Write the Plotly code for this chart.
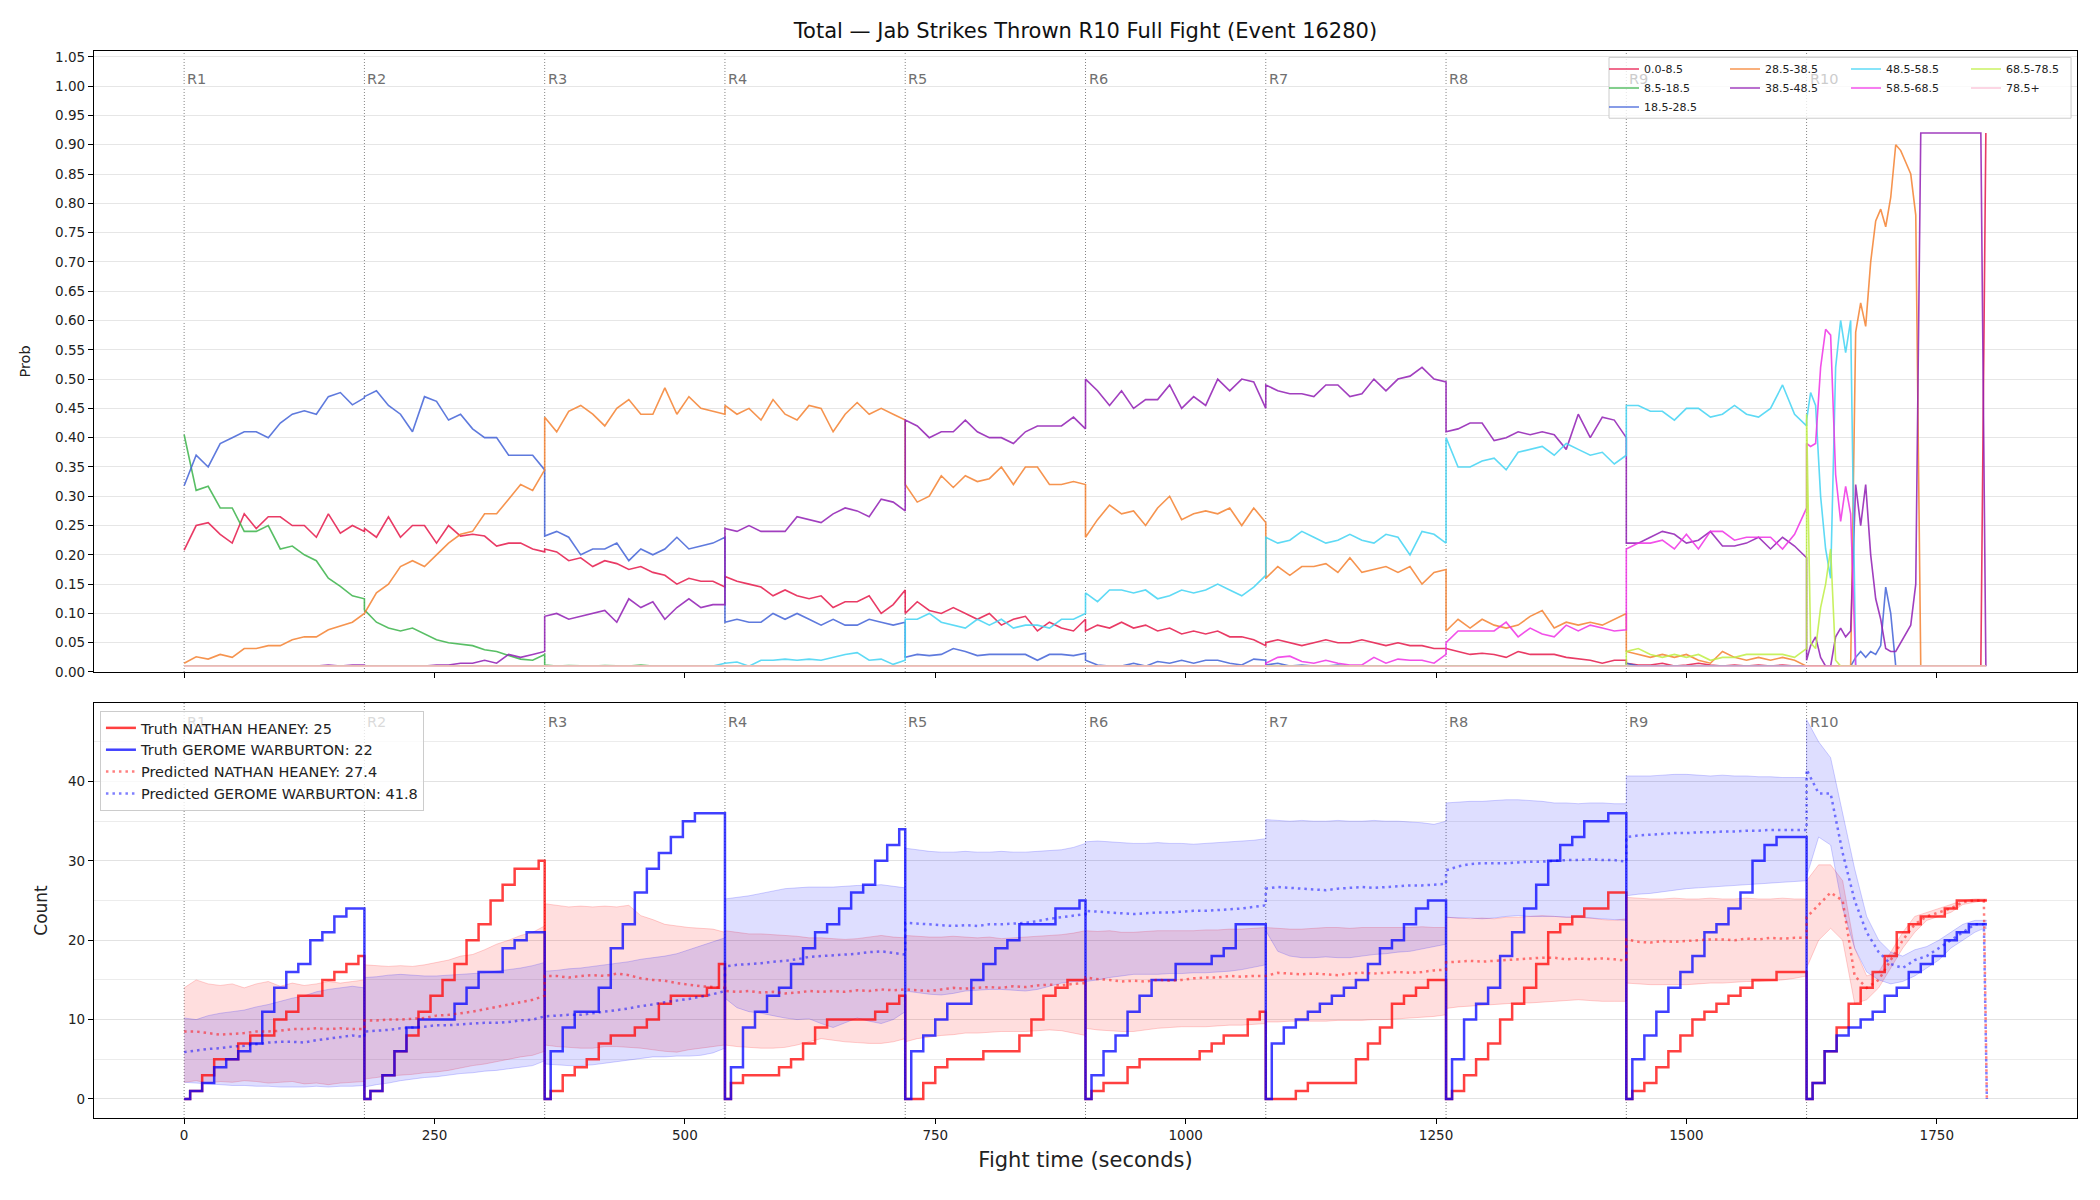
import plotly.graph_objects as go

# ---------------- data ----------------
title_text = "Total — Jab Strikes Thrown R10 Full Fight (Event 16280)"
round_starts = [0, 180, 360, 540, 720, 900, 1080, 1260, 1440, 1620]
round_labels = ["R1", "R2", "R3", "R4", "R5", "R6", "R7", "R8", "R9", "R10"]
grid_offsets = [0, 12, 24, 36, 48, 60, 72, 84, 96, 108, 120, 132, 144, 156, 168, 180]
r10_top_times = [1620, 1624, 1629, 1634, 1639, 1644, 1649, 1654, 1659, 1664, 1669, 1674, 1679,
                 1684, 1689, 1694, 1699, 1704, 1709, 1714, 1719, 1724, 1729, 1734, 1794, 1799]
r10_bottom_offsets = [0, 12, 24, 36, 48, 60, 72, 84, 96, 108, 120, 132, 144, 156, 168, 177, 180]

bin_names = ["0.0-8.5", "8.5-18.5", "18.5-28.5", "28.5-38.5", "38.5-48.5",
             "48.5-58.5", "58.5-68.5", "68.5-78.5", "78.5+"]
bin_colors = ["#e6194b", "#3cb44b", "#4363d8", "#f58231", "#911eb4",
              "#42d4f4", "#f032e6", "#bfef45", "#fabed4"]

p_0_8 = [
    0.208, 0.25, 0.255, 0.235, 0.22, 0.27, 0.245, 0.265, 0.265, 0.25, 0.25, 0.23, 0.27, 0.237, 0.25, 0.24,
    0.245, 0.23, 0.265, 0.23, 0.25, 0.25, 0.22, 0.25, 0.232, 0.235, 0.232, 0.215, 0.22, 0.22, 0.21, 0.205,
    0.21, 0.205, 0.19, 0.195, 0.18, 0.19, 0.185, 0.175, 0.18, 0.17, 0.165, 0.15, 0.16, 0.155, 0.155, 0.145,
    0.163, 0.155, 0.15, 0.145, 0.13, 0.14, 0.13, 0.125, 0.13, 0.11, 0.12, 0.12, 0.13, 0.10, 0.115, 0.14,
    0.10, 0.12, 0.105, 0.10, 0.11, 0.10, 0.09, 0.10, 0.08, 0.09, 0.095, 0.07, 0.085, 0.075, 0.07, 0.09,
    0.07, 0.08, 0.075, 0.085, 0.075, 0.08, 0.07, 0.075, 0.065, 0.07, 0.065, 0.07, 0.06, 0.06, 0.055, 0.045,
    0.05, 0.055, 0.05, 0.045, 0.05, 0.055, 0.05, 0.05, 0.055, 0.05, 0.045, 0.05, 0.045, 0.045, 0.04, 0.04,
    0.04, 0.035, 0.03, 0.032, 0.03, 0.025, 0.035, 0.03, 0.03, 0.03, 0.025, 0.022, 0.02, 0.015, 0.02, 0.02,
    0.015, 0.012, 0.012, 0.015, 0.01, 0.012, 0.015, 0.012, 0.01, 0.012, 0.01, 0.012, 0.01, 0.012, 0.01, 0.01,
    0.01, 0.01, 0.01, 0.01, 0.01, 0.01, 0.01, 0.01, 0.01, 0.01, 0.01, 0.01, 0.01,
    0.01, 0.01, 0.01, 0.01, 0.01, 0.01, 0.01, 0.01, 0.01, 0.01, 0.01, 0.01, 0.92,
]
p_8_18 = [
    0.405, 0.31, 0.317, 0.28, 0.28, 0.24, 0.24, 0.25, 0.21, 0.215, 0.20, 0.19, 0.16, 0.146, 0.13, 0.125,
    0.106, 0.085, 0.075, 0.07, 0.075, 0.065, 0.055, 0.05, 0.048, 0.045, 0.038, 0.035, 0.028, 0.022, 0.02, 0.03,
    0.012, 0.01, 0.011, 0.01, 0.01, 0.011, 0.01, 0.01, 0.012, 0.01, 0.01, 0.01, 0.01, 0.01, 0.01, 0.01,
] + [0.01] * (16 * 6 + 26)
p_18_28 = [
    0.318, 0.37, 0.35, 0.39, 0.40, 0.41, 0.41, 0.40, 0.425, 0.44, 0.446, 0.44, 0.47, 0.477, 0.456, 0.468,
    0.47, 0.48, 0.455, 0.44, 0.41, 0.47, 0.462, 0.43, 0.44, 0.415, 0.40, 0.40, 0.37, 0.37, 0.37, 0.345,
    0.232, 0.24, 0.23, 0.20, 0.21, 0.21, 0.22, 0.19, 0.21, 0.20, 0.21, 0.23, 0.21, 0.215, 0.22, 0.23,
    0.085, 0.09, 0.085, 0.085, 0.10, 0.09, 0.10, 0.09, 0.08, 0.09, 0.08, 0.08, 0.09, 0.085, 0.08, 0.085,
    0.025, 0.03, 0.028, 0.03, 0.04, 0.035, 0.028, 0.03, 0.03, 0.03, 0.03, 0.02, 0.03, 0.03, 0.028, 0.032,
    0.02, 0.012, 0.01, 0.01, 0.015, 0.01, 0.018, 0.015, 0.02, 0.015, 0.02, 0.02, 0.015, 0.012, 0.022, 0.02,
    0.012, 0.015, 0.01, 0.012, 0.01, 0.01, 0.012, 0.01, 0.01, 0.01, 0.01, 0.01, 0.01, 0.01, 0.01, 0.01,
    0.01, 0.01, 0.01, 0.01, 0.01, 0.01, 0.01, 0.01, 0.01, 0.01, 0.01, 0.01, 0.01, 0.01, 0.01, 0.01,
    0.015, 0.01, 0.01, 0.01, 0.01, 0.01, 0.01, 0.01, 0.01, 0.01, 0.01, 0.01, 0.01, 0.01, 0.01, 0.01,
    0.01, 0.01, 0.01, 0.01, 0.01, 0.01, 0.01, 0.01, 0.01, 0.01,
    0.025, 0.035, 0.025, 0.035, 0.03, 0.045, 0.145, 0.10,
    0.01, 0.01, 0.01, 0.01, 0.01, 0.01, 0.01, 0.01,
]
p_28_38 = [
    0.015, 0.026, 0.022, 0.03, 0.025, 0.04, 0.04, 0.045, 0.045, 0.055, 0.06, 0.06, 0.072, 0.078, 0.085, 0.10,
    0.10, 0.135, 0.15, 0.18, 0.19, 0.18, 0.20, 0.22, 0.235, 0.24, 0.27, 0.27, 0.295, 0.32, 0.31, 0.345,
    0.435, 0.41, 0.445, 0.455, 0.44, 0.42, 0.45, 0.465, 0.44, 0.44, 0.485, 0.44, 0.47, 0.45, 0.445, 0.44,
    0.455, 0.44, 0.45, 0.43, 0.465, 0.44, 0.43, 0.455, 0.45, 0.41, 0.44, 0.46, 0.44, 0.45, 0.44, 0.43,
    0.32, 0.29, 0.30, 0.335, 0.315, 0.335, 0.325, 0.33, 0.35, 0.32, 0.35, 0.35, 0.32, 0.32, 0.325, 0.32,
    0.23, 0.26, 0.285, 0.27, 0.275, 0.25, 0.28, 0.30, 0.26, 0.27, 0.275, 0.27, 0.28, 0.25, 0.28, 0.255,
    0.16, 0.18, 0.165, 0.18, 0.18, 0.185, 0.17, 0.195, 0.17, 0.175, 0.18, 0.17, 0.18, 0.15, 0.17, 0.175,
    0.07, 0.09, 0.075, 0.09, 0.08, 0.075, 0.08, 0.095, 0.105, 0.075, 0.085, 0.08, 0.085, 0.08, 0.09, 0.10,
    0.035, 0.03, 0.025, 0.03, 0.025, 0.03, 0.02, 0.015, 0.035, 0.025, 0.02, 0.025, 0.02, 0.025, 0.02, 0.01,
    0.01, 0.01, 0.01, 0.01, 0.01, 0.01, 0.01, 0.01, 0.01, 0.01,
    0.58, 0.63, 0.59, 0.70, 0.77, 0.79, 0.76, 0.81, 0.90, 0.89, 0.87, 0.85, 0.78,
    0.01, 0.01, 0.01,
]
p_38_48 = [
    0.01, 0.01, 0.01, 0.01, 0.01, 0.01, 0.01, 0.01, 0.01, 0.01, 0.01, 0.01, 0.012, 0.01, 0.012, 0.012,
    0.01, 0.01, 0.01, 0.01, 0.01, 0.01, 0.012, 0.012, 0.015, 0.015, 0.02, 0.015, 0.03, 0.025, 0.03, 0.035,
    0.095, 0.10, 0.09, 0.095, 0.10, 0.105, 0.085, 0.125, 0.11, 0.12, 0.09, 0.11, 0.125, 0.11, 0.115, 0.115,
    0.245, 0.24, 0.25, 0.24, 0.24, 0.24, 0.265, 0.26, 0.255, 0.27, 0.28, 0.275, 0.265, 0.295, 0.29, 0.275,
    0.43, 0.42, 0.40, 0.41, 0.41, 0.43, 0.41, 0.40, 0.40, 0.39, 0.41, 0.42, 0.42, 0.42, 0.435, 0.415,
    0.50, 0.48, 0.455, 0.48, 0.45, 0.465, 0.465, 0.49, 0.45, 0.47, 0.455, 0.50, 0.48, 0.50, 0.495, 0.45,
    0.49, 0.48, 0.475, 0.475, 0.47, 0.49, 0.49, 0.47, 0.475, 0.50, 0.48, 0.50, 0.505, 0.52, 0.50, 0.495,
    0.41, 0.415, 0.425, 0.425, 0.395, 0.40, 0.41, 0.405, 0.41, 0.405, 0.38, 0.44, 0.40, 0.435, 0.43, 0.40,
    0.22, 0.22, 0.23, 0.24, 0.235, 0.22, 0.225, 0.24, 0.215, 0.215, 0.22, 0.23, 0.21, 0.23, 0.215, 0.195,
    0.02, 0.045, 0.06, 0.025, 0.01, 0.01, 0.06, 0.075, 0.06, 0.07, 0.32, 0.25, 0.32,
    0.20, 0.125, 0.09, 0.04, 0.035, 0.035, 0.05, 0.065, 0.08, 0.15, 0.92, 0.92, 0.01,
]
p_48_58 = [0.01] * 47 + [0.015] + [
    0.015, 0.017, 0.01, 0.02, 0.02, 0.022, 0.02, 0.022, 0.02, 0.025, 0.03, 0.033, 0.02, 0.022, 0.013, 0.02,
    0.09, 0.09, 0.10, 0.085, 0.08, 0.075, 0.09, 0.08, 0.09, 0.075, 0.08, 0.08, 0.075, 0.09, 0.09, 0.10,
    0.135, 0.12, 0.14, 0.14, 0.135, 0.14, 0.125, 0.13, 0.14, 0.135, 0.14, 0.15, 0.14, 0.13, 0.145, 0.165,
    0.23, 0.22, 0.225, 0.24, 0.23, 0.22, 0.225, 0.235, 0.225, 0.22, 0.235, 0.23, 0.20, 0.24, 0.235, 0.22,
    0.40, 0.35, 0.35, 0.36, 0.365, 0.345, 0.375, 0.38, 0.385, 0.37, 0.39, 0.38, 0.37, 0.375, 0.355, 0.37,
    0.455, 0.455, 0.445, 0.445, 0.43, 0.45, 0.45, 0.435, 0.44, 0.455, 0.44, 0.435, 0.45, 0.49, 0.44, 0.42,
    0.43, 0.477, 0.455, 0.30, 0.21, 0.16, 0.52, 0.60, 0.545, 0.60,
] + [0.01] * 16
p_58_68 = [0.01] * (16 * 6) + [
    0.015, 0.025, 0.027, 0.018, 0.015, 0.02, 0.015, 0.012, 0.012, 0.025, 0.015, 0.022, 0.02, 0.02, 0.015, 0.03,
    0.05, 0.07, 0.07, 0.07, 0.07, 0.085, 0.06, 0.075, 0.065, 0.06, 0.08, 0.07, 0.08, 0.075, 0.07, 0.072,
    0.21, 0.22, 0.22, 0.225, 0.21, 0.235, 0.21, 0.24, 0.24, 0.225, 0.23, 0.23, 0.23, 0.21, 0.235, 0.28,
    0.39, 0.385, 0.39, 0.52, 0.585, 0.575, 0.337, 0.257, 0.317, 0.27,
] + [0.01] * 16
p_68_78 = [0.01] * (16 * 8) + [
    0.035, 0.04, 0.03, 0.025, 0.03, 0.025, 0.03, 0.02, 0.025, 0.025, 0.03, 0.03, 0.03, 0.03, 0.025, 0.04,
    0.44, 0.05, 0.04, 0.11, 0.15, 0.21, 0.02, 0.01,
] + [0.01] * 18
p_78_plus = [0.01] * (16 * 9 + 26)

truth_red = [
    0, 1, 3, 5, 5, 7, 8, 8, 10, 11, 13, 13, 15, 16, 17, 18,
    0, 1, 3, 6, 8, 11, 13, 15, 17, 20, 22, 25, 27, 29, 29, 30,
    0, 1, 3, 4, 5, 7, 8, 8, 9, 10, 12, 13, 13, 13, 14, 17,
    0, 2, 3, 3, 3, 4, 5, 7, 9, 10, 10, 10, 10, 11, 12, 13,
    0, 0, 2, 4, 5, 5, 5, 6, 6, 6, 8, 10, 13, 14, 15, 15,
    0, 1, 2, 2, 4, 5, 5, 5, 5, 5, 6, 7, 8, 8, 10, 11,
    0, 0, 0, 1, 2, 2, 2, 2, 5, 7, 9, 12, 13, 14, 15, 15,
    0, 1, 3, 5, 7, 10, 12, 14, 17, 21, 22, 23, 24, 24, 26, 26,
    0, 1, 2, 4, 6, 8, 10, 11, 12, 13, 14, 15, 15, 16, 16, 16,
    0, 2, 6, 9, 12, 14, 16, 18, 21, 22, 23, 23, 24, 25, 25, 25, 25,
]
truth_blue = [
    0, 1, 2, 4, 5, 6, 7, 11, 14, 16, 17, 20, 21, 23, 24, 24,
    0, 1, 3, 6, 9, 10, 10, 10, 12, 14, 16, 16, 19, 20, 21, 21,
    0, 6, 9, 11, 11, 14, 19, 22, 26, 29, 31, 33, 35, 36, 36, 36,
    0, 4, 9, 11, 13, 14, 17, 19, 21, 22, 24, 26, 27, 30, 32, 34,
    0, 6, 8, 10, 12, 12, 15, 17, 19, 20, 22, 22, 22, 24, 24, 25,
    0, 3, 6, 8, 11, 13, 15, 15, 17, 17, 17, 18, 19, 22, 22, 22,
    0, 7, 9, 10, 11, 12, 13, 14, 15, 17, 19, 20, 22, 24, 25, 25,
    0, 5, 10, 12, 14, 18, 21, 24, 27, 30, 32, 33, 35, 35, 36, 36,
    0, 5, 8, 11, 14, 16, 18, 21, 22, 24, 26, 30, 32, 33, 33, 33,
    0, 2, 6, 8, 9, 10, 11, 13, 14, 16, 17, 18, 20, 21, 22, 22, 22,
]
pred_red = [
    8.5, 8.5, 8.3, 8.1, 8.2, 8.3, 8.5, 8.5, 8.6, 8.8, 8.8, 8.9, 8.8, 8.9, 8.8, 8.8,
    9.9, 9.9, 10.0, 10.0, 10.1, 10.2, 10.5, 10.6, 10.8, 11.0, 11.3, 11.6, 11.9, 12.2, 12.5, 13.0,
    15.5, 15.5, 15.3, 15.5, 15.6, 15.5, 15.8, 15.6, 15.2, 15.0, 14.9, 14.6, 14.4, 14.2, 14.1, 14.0,
    13.6, 13.5, 13.6, 13.4, 13.5, 13.3, 13.4, 13.6, 13.5, 13.6, 13.5, 13.7, 13.6, 13.8, 13.7, 13.8,
    13.8, 13.7, 13.6, 13.8, 14.0, 13.9, 14.0, 14.1, 14.0, 14.2, 14.1, 14.3, 14.4, 14.3, 14.5, 14.6,
    15.3, 15.1, 15.0, 14.8, 14.9, 14.8, 15.0, 14.9, 15.0, 15.2, 15.3, 15.3, 15.5, 15.4, 15.5, 15.5,
    15.5, 15.9, 15.8, 15.7, 15.8, 15.7, 15.6, 15.8, 15.9, 15.8, 15.9, 16.0, 15.9, 16.0, 16.2, 16.3,
    17.2, 17.3, 17.4, 17.3, 17.4, 17.5, 17.6, 17.7, 17.8, 17.8, 17.6, 17.7, 17.6, 17.7, 17.6, 17.4,
    20.1, 19.8, 19.7, 19.9, 19.8, 19.9, 20.0, 20.1, 20.1, 20.0, 20.2, 20.1, 20.3, 20.2, 20.3, 20.3,
    22.9, 24.5, 26.0, 25.0, 15.5, 14.0, 15.0, 17.5, 20.0, 22.0, 23.0, 23.5, 24.0, 24.8, 25.0, 25.0, 0.0,
]
pred_blue = [
    5.9, 6.1, 6.3, 6.4, 6.6, 6.7, 6.9, 7.1, 7.2, 7.2, 7.1, 7.4, 7.6, 7.8, 8.0, 7.8,
    8.5, 8.6, 8.7, 8.9, 9.0, 9.1, 9.3, 9.3, 9.4, 9.5, 9.6, 9.6, 9.7, 9.9, 10.0, 10.4,
    10.4, 10.5, 10.6, 10.6, 10.8, 11.0, 11.2, 11.4, 11.7, 11.9, 12.2, 12.4, 12.6, 12.9, 13.2, 13.6,
    16.7, 16.9, 17.0, 17.1, 17.3, 17.4, 17.6, 17.9, 18.0, 18.1, 18.2, 18.3, 18.5, 18.6, 18.4, 18.2,
    22.2, 22.1, 22.0, 21.9, 21.8, 21.9, 21.8, 22.0, 22.0, 22.1, 22.2, 22.4, 22.7, 22.9, 23.1, 23.3,
    23.7, 23.6, 23.5, 23.4, 23.3, 23.4, 23.5, 23.5, 23.6, 23.7, 23.7, 23.8, 23.9, 24.0, 24.2, 24.4,
    26.5, 26.7, 26.6, 26.5, 26.4, 26.3, 26.5, 26.6, 26.7, 26.6, 26.7, 26.8, 26.9, 26.9, 27.0, 27.1,
    28.8, 29.3, 29.6, 29.7, 29.7, 29.7, 29.8, 29.9, 29.9, 30.0, 30.1, 30.1, 30.2, 30.1, 30.1, 29.9,
    33.0, 33.2, 33.3, 33.4, 33.5, 33.5, 33.6, 33.6, 33.7, 33.7, 33.8, 33.8, 33.9, 33.9, 33.9, 33.9,
    41.5, 38.5, 38.5, 31.0, 25.0, 21.0, 18.5, 17.0, 16.5, 17.5, 18.0, 19.0, 20.0, 21.0, 22.0, 22.0, 0.0,
]
red_lo = [
    2.1, 2.3, 2.0, 2.2, 2.1, 2.3, 2.2, 2.0, 2.1, 2.2, 1.9, 2.0, 1.8, 2.0, 2.1, 2.2,
    2.5, 2.7, 2.9, 3.0, 3.1, 3.3, 3.4, 3.6, 3.9, 4.2, 4.4, 4.7, 5.0, 5.3, 5.5, 6.0,
    6.8, 6.6, 6.5, 6.4, 6.4, 6.6, 6.6, 6.5, 6.4, 6.2, 6.0, 5.9, 6.2, 6.4, 6.6, 6.8,
    6.8, 6.6, 6.5, 6.4, 6.4, 6.5, 6.8, 7.2, 7.6, 7.4, 7.2, 7.1, 7.0, 7.0, 7.2, 7.6,
    7.2, 7.6, 7.8, 8.0, 8.1, 8.3, 8.3, 8.4, 8.5, 8.5, 8.5, 8.6, 8.7, 8.6, 8.3, 8.0,
    8.9, 8.7, 8.6, 8.5, 8.5, 8.7, 8.9, 9.0, 9.1, 9.1, 9.1, 9.2, 9.3, 9.3, 9.4, 9.5,
    9.7, 9.7, 9.8, 9.8, 9.8, 9.8, 9.9, 9.9, 9.9, 10.0, 10.0, 10.1, 10.2, 10.3, 10.4, 10.6,
    11.4, 11.6, 11.7, 11.8, 11.9, 12.0, 12.1, 12.1, 12.2, 12.3, 12.4, 12.5, 12.4, 12.3, 12.3, 12.3,
    14.6, 14.5, 14.4, 14.4, 14.4, 14.4, 14.5, 14.6, 14.6, 14.7, 14.8, 14.8, 14.9, 15.0, 15.2, 15.5,
    16.5, 20.0, 21.5, 20.0, 12.0, 12.5, 14.0, 16.5, 19.0, 21.0, 22.5, 23.0, 23.5, 24.5, 24.8, 25.0, 25.0,
]
red_hi = [
    14.0, 15.0, 14.5, 14.3, 14.5, 14.0, 14.5, 14.8, 14.2, 14.6, 14.3, 14.5, 14.8, 14.6, 14.8, 15.0,
    16.9, 16.8, 16.7, 16.8, 16.7, 16.9, 17.2, 17.5, 18.0, 18.2, 18.8, 19.5, 20.0, 20.6, 21.0, 21.8,
    24.6, 24.4, 24.2, 24.3, 24.2, 24.3, 24.2, 24.4, 23.1, 22.6, 22.0, 21.8, 21.6, 21.5, 21.4, 21.0,
    21.2, 21.0, 20.8, 20.8, 20.7, 20.6, 20.5, 20.3, 20.3, 20.2, 20.1, 20.2, 20.4, 20.6, 20.4, 20.3,
    20.6, 20.5, 20.4, 20.4, 20.5, 20.4, 20.3, 20.4, 20.2, 20.3, 20.4, 20.5, 20.6, 20.7, 20.9, 21.2,
    21.2, 21.1, 21.2, 21.0, 21.0, 21.1, 21.2, 21.2, 21.2, 21.2, 21.3, 21.3, 21.4, 21.4, 21.5, 21.6,
    21.6, 21.5, 21.4, 21.4, 21.5, 21.6, 21.6, 21.5, 21.6, 21.6, 21.6, 21.6, 21.6, 21.7, 21.6, 21.6,
    22.9, 22.8, 22.7, 22.8, 22.7, 22.9, 22.9, 23.0, 23.1, 23.0, 22.9, 22.9, 22.8, 22.6, 22.5, 22.7,
    25.4, 25.3, 25.2, 25.2, 25.3, 25.2, 25.2, 25.3, 25.2, 25.2, 25.3, 25.2, 25.2, 25.3, 25.2, 25.2,
    27.5, 29.5, 29.5, 27.5, 19.0, 15.5, 16.0, 18.5, 21.0, 23.0, 23.5, 24.0, 24.5, 25.0, 25.2, 25.2, 25.2,
]
blue_lo = [
    2.1, 2.0, 1.9, 1.8, 1.7, 1.7, 1.6, 1.6, 1.5, 1.5, 1.5, 1.6, 1.5, 1.6, 1.6, 1.7,
    1.5, 1.8, 2.0, 2.3, 2.5, 2.7, 2.8, 3.0, 3.2, 3.3, 3.5, 3.6, 3.8, 4.0, 4.2, 4.8,
    4.4, 4.3, 4.2, 4.2, 4.3, 4.5, 4.7, 4.9, 5.1, 5.3, 5.3, 5.4, 5.4, 5.5, 5.8, 6.4,
    12.7, 11.5, 11.0, 10.8, 10.5, 10.2, 10.0, 10.1, 9.5, 9.0, 9.6, 10.2, 9.8, 9.5, 10.0, 11.0,
    13.6, 13.4, 13.2, 13.1, 13.3, 13.6, 13.7, 13.8, 13.8, 13.7, 13.6, 13.8, 14.2, 14.6, 14.8, 14.8,
    14.8, 15.0, 15.3, 15.5, 15.7, 15.7, 15.7, 15.8, 15.8, 15.9, 15.9, 16.0, 16.1, 16.3, 16.6, 16.9,
    21.2, 18.6, 18.0, 17.8, 17.8, 17.9, 17.8, 17.8, 18.0, 18.2, 18.3, 18.5, 18.6, 18.9, 19.2, 19.5,
    22.9, 22.8, 22.8, 22.7, 22.8, 23.0, 23.1, 23.0, 23.0, 23.0, 22.9, 22.9, 22.8, 22.7, 22.6, 22.5,
    25.6, 25.8, 25.9, 26.1, 26.3, 26.5, 26.6, 26.7, 26.8, 26.9, 27.0, 27.1, 27.2, 27.3, 27.4, 27.5,
    28.0, 33.0, 32.0, 24.0, 19.0, 16.0, 15.0, 14.5, 14.8, 15.5, 16.5, 17.5, 19.0, 20.0, 21.0, 21.5, 21.5,
]
blue_hi = [
    10.2, 10.0, 10.5, 10.8, 11.0, 11.2, 11.6, 11.9, 12.3, 12.7, 13.0, 13.5, 13.8, 14.0, 14.2, 14.0,
    15.3, 15.4, 15.6, 15.7, 15.6, 15.5, 15.5, 15.6, 15.7, 15.8, 15.9, 16.1, 16.3, 16.5, 16.8, 17.2,
    16.1, 16.2, 16.4, 16.5, 16.7, 16.9, 17.1, 17.3, 17.6, 17.8, 18.0, 18.3, 18.8, 19.3, 19.8, 20.3,
    25.2, 25.4, 25.6, 25.9, 26.2, 26.5, 26.6, 26.7, 26.7, 26.7, 26.8, 26.9, 26.9, 27.0, 26.8, 26.6,
    31.6, 31.4, 31.2, 31.1, 31.1, 31.2, 31.1, 31.1, 31.2, 31.1, 31.1, 31.2, 31.3, 31.4, 31.7, 32.2,
    32.4, 32.5, 32.4, 32.3, 32.2, 32.2, 32.3, 32.2, 32.2, 32.1, 32.2, 32.3, 32.4, 32.5, 32.6, 32.8,
    35.2, 35.1, 35.0, 35.1, 35.0, 35.0, 35.1, 35.0, 35.0, 35.1, 35.0, 35.0, 34.9, 34.8, 34.6, 35.0,
    37.3, 37.4, 37.5, 37.5, 37.6, 37.7, 37.7, 37.6, 37.5, 37.3, 37.3, 37.2, 37.3, 37.3, 37.2, 37.2,
    40.7, 40.7, 40.7, 40.8, 40.9, 40.9, 40.8, 40.7, 40.8, 40.7, 40.7, 40.6, 40.6, 40.5, 40.5, 40.5,
    47.8, 45.0, 43.0, 36.0, 29.0, 23.0, 20.0, 18.5, 18.0, 18.8, 19.2, 20.0, 21.0, 22.0, 22.5, 22.5, 22.5,
]
legend_names = ["Truth NATHAN HEANEY: 25", "Truth GEROME WARBURTON: 22",
                "Predicted NATHAN HEANEY: 27.4", "Predicted GEROME WARBURTON: 41.8"]
x_ticks = [0, 250, 500, 750, 1000, 1250, 1500, 1750]

# ---------------- build ----------------
t_top = [s + o for s in round_starts[:9] for o in grid_offsets] + r10_top_times
t_bot = [s + o for s in round_starts[:9] for o in grid_offsets] + [round_starts[9] + o for o in r10_bottom_offsets]

FONT = "DejaVu Sans"
fig = go.Figure()

bin_values = [p_0_8, p_8_18, p_18_28, p_28_38, p_38_48, p_48_58, p_58_68, p_68_78, p_78_plus]
bin_legend = ["legend", "legend", "legend", "legend2", "legend2", "legend3", "legend3", "legend4", "legend4"]
for name, vals, col, lg in zip(bin_names, bin_values, bin_colors, bin_legend):
    fig.add_trace(go.Scatter(x=t_top, y=vals, mode="lines", name=name,
                             line=dict(color=col, width=1.6), opacity=0.85,
                             legend=lg, xaxis="x", yaxis="y"))

band_line_r = dict(color="rgba(255,0,0,0.18)", width=1)
band_line_b = dict(color="rgba(0,0,255,0.18)", width=1)
fig.add_trace(go.Scatter(x=t_bot, y=red_lo, mode="lines", line=band_line_r, showlegend=False,
                         legend="legend5", xaxis="x2", yaxis="y2", hoverinfo="skip"))
fig.add_trace(go.Scatter(x=t_bot, y=red_hi, mode="lines", line=band_line_r, showlegend=False,
                         fill="tonexty", fillcolor="rgba(255,0,0,0.13)", legend="legend5",
                         xaxis="x2", yaxis="y2", hoverinfo="skip"))
fig.add_trace(go.Scatter(x=t_bot, y=blue_lo, mode="lines", line=band_line_b, showlegend=False,
                         legend="legend5", xaxis="x2", yaxis="y2", hoverinfo="skip"))
fig.add_trace(go.Scatter(x=t_bot, y=blue_hi, mode="lines", line=band_line_b, showlegend=False,
                         fill="tonexty", fillcolor="rgba(0,0,255,0.13)", legend="legend5",
                         xaxis="x2", yaxis="y2", hoverinfo="skip"))
fig.add_trace(go.Scatter(x=t_bot, y=truth_red, mode="lines", name=legend_names[0],
                         line=dict(color="rgba(255,0,0,0.75)", width=2.5, shape="hvh"),
                         legend="legend5", xaxis="x2", yaxis="y2"))
fig.add_trace(go.Scatter(x=t_bot, y=truth_blue, mode="lines", name=legend_names[1],
                         line=dict(color="rgba(0,0,255,0.75)", width=2.5, shape="hvh"),
                         legend="legend5", xaxis="x2", yaxis="y2"))
fig.add_trace(go.Scatter(x=t_bot, y=pred_red, mode="lines", name=legend_names[2],
                         line=dict(color="rgba(255,0,0,0.5)", width=2.5, dash="2.5px,4px"),
                         legend="legend5", xaxis="x2", yaxis="y2"))
fig.add_trace(go.Scatter(x=t_bot, y=pred_blue, mode="lines", name=legend_names[3],
                         line=dict(color="rgba(0,0,255,0.5)", width=2.5, dash="2.5px,4px"),
                         legend="legend5", xaxis="x2", yaxis="y2"))

shapes = []
annotations = []
for i, (s, lab) in enumerate(zip(round_starts, round_labels)):
    for xr, yr in (("x", "y domain"), ("x2", "y2 domain")):
        shapes.append(dict(type="line", xref=xr, yref=yr, x0=s, x1=s, y0=0, y1=1, layer="below",
                           line=dict(color="rgba(90,90,90,0.75)", width=1, dash="1px,2px")))
    op_top = 0.35 if i >= 8 else 1.0
    op_bot = 0.25 if i <= 1 else 1.0
    annotations.append(dict(x=s, y=0.955, xref="x", yref="y domain", text=lab, showarrow=False,
                            xanchor="left", yanchor="middle", xshift=1, opacity=op_top,
                            font=dict(family=FONT, size=14.5, color="#707070")))
    annotations.append(dict(x=s, y=0.955, xref="x2", yref="y2 domain", text=lab, showarrow=False,
                            xanchor="left", yanchor="middle", xshift=1, opacity=op_bot,
                            font=dict(family=FONT, size=14.5, color="#707070")))

# legend frame for the four top legend columns
shapes.append(dict(type="rect", xref="paper", yref="paper", x0=0.764, x1=0.997, y0=0.937, y1=0.994,
                   fillcolor="rgba(255,255,255,0.8)", line=dict(color="#cccccc", width=1), layer="above"))

axis_common = dict(showline=True, linecolor="black", linewidth=1.25, mirror=True,
                   ticks="outside", ticklen=5, tickwidth=1, tickcolor="black", zeroline=False,
                   tickfont=dict(family=FONT, size=13.5, color="#222"))

top_leg = dict(orientation="v", yanchor="top", y=0.9967, xanchor="left", traceorder="normal",
               bgcolor="rgba(0,0,0,0)", borderwidth=0,
               font=dict(family=FONT, size=11, color="#222"), tracegroupgap=0)

fig.update_layout(
    width=2100, height=1200,
    margin=dict(l=94, r=23, t=51, b=82),
    paper_bgcolor="white", plot_bgcolor="white",
    font=dict(family=FONT, color="#222"),
    title=dict(text=title_text, x=0.5, xref="paper", xanchor="center", y=1 - 31 / 1200,
               yanchor="middle", font=dict(family=FONT, size=21, color="#111")),
    xaxis=dict(domain=[0, 1], range=[-90, 1890], tickvals=x_ticks, showticklabels=False,
               showgrid=False, anchor="y", **axis_common),
    yaxis=dict(domain=[0.418, 1], range=[0, 1.06], dtick=0.05, tick0=0, tickformat=".2f",
               showgrid=True, gridcolor="#e6e6e6", gridwidth=1, anchor="x",
               title=dict(text="Prob", standoff=21, font=dict(family=FONT, size=14.5)),
               **axis_common),
    xaxis2=dict(domain=[0, 1], range=[-90, 1890], tickvals=x_ticks, matches="x",
                showgrid=False, anchor="y2",
                title=dict(text="Fight time (seconds)", standoff=9, font=dict(family=FONT, size=21)),
                **axis_common),
    yaxis2=dict(domain=[0, 0.389], range=[-2.4, 49.9], dtick=10, tick0=0,
                showgrid=True, gridcolor="#e2e2e2", gridwidth=1, anchor="x2",
                minor=dict(dtick=5, tick0=0, showgrid=True, gridcolor="#ececec", ticks=""),
                title=dict(text="Count", standoff=16, font=dict(family=FONT, size=17)),
                **axis_common),
    legend=dict(x=(1604 - 94) / 1983, **top_leg),
    legend2=dict(x=(1725 - 94) / 1983, **top_leg),
    legend3=dict(x=(1846 - 94) / 1983, **top_leg),
    legend4=dict(x=(1966 - 94) / 1983, **top_leg),
    legend5=dict(x=0.003, y=0.3815, xanchor="left", yanchor="top", orientation="v",
                 traceorder="normal",
                 bgcolor="rgba(255,255,255,0.8)", bordercolor="#cccccc", borderwidth=1,
                 font=dict(family=FONT, size=14.5, color="#222")),
    shapes=shapes,
    annotations=annotations,
    showlegend=True,
)

fig.write_html("out.html")
